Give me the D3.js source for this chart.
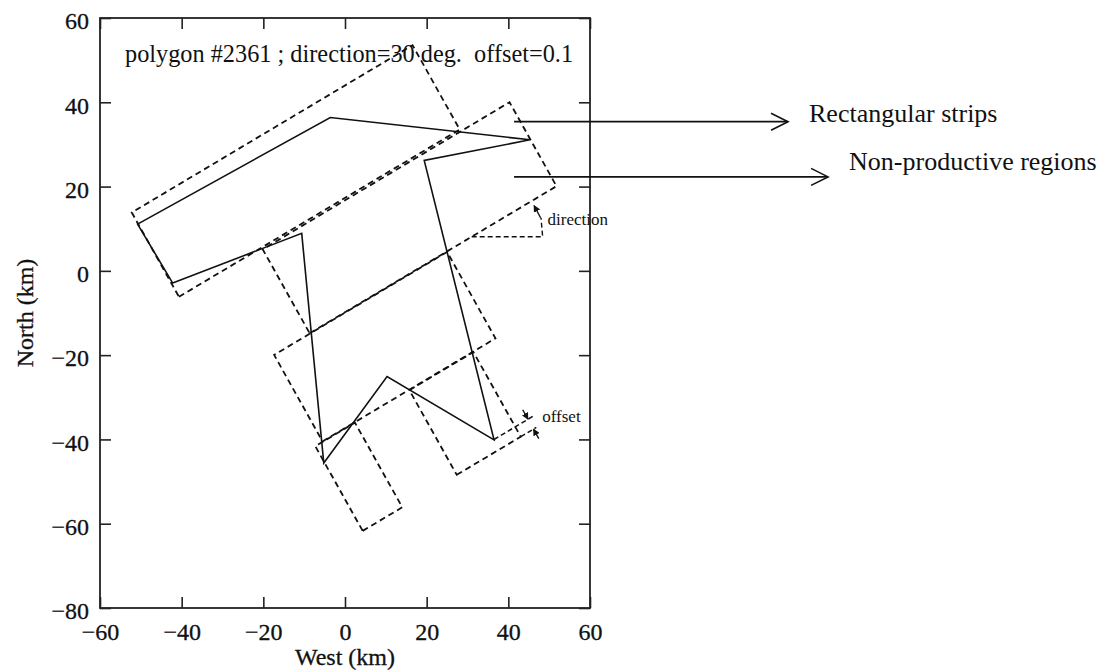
<!DOCTYPE html>
<html>
<head>
<meta charset="utf-8">
<script src="https://cdn.jsdelivr.net/npm/d3@7"></script>
<style>
  body { margin: 0; background: #fff; }
  svg { display: block; font-family: "Liberation Serif", "Times New Roman", serif; }
</style>
</head>
<body>
<svg id="chart"></svg>
<script>
// polygon outline, km (west, north)
const polygon = [
  [-50.8, 11.1], [-3.6, 36.4], [45.3, 31.1], [19.4, 26.2], [36.5, -40.1],
  [10.3, -25.1], [-5.2, -45.6], [-10.6, 8.9], [-42.2, -2.9]
];

// strips, in the frame turned by `direction`: along-track u and cross-track v, km
const direction = 30;
const stripU = [[-38.3, 41.1], [-14.9, 54.9], [-25.0, 23.9], [-27.1, -15.9], [-0.5, 17.6]];
const stripV = [[15.0, 38.1], [-8.5, 14.5], [-32.3, -8.6], [-55.6, -32.4], [-55.6, -32.4]];

// offset marker: the two edges it measures (v), how far each runs (u), where the arrows sit (u)
const offsetV = [-52.9, -55.6];
const offsetU = [[11.6, 22.6], [17.6, 22.0]];
const offsetArrowU = 21.2;

const xTicks = [-60, -40, -20, 0, 20, 40, 60];
const yTicks = [-80, -60, -40, -20, 0, 20, 40, 60];

const title = "polygon #2361 ; direction=30 deg.  offset=0.1";
const callouts = ["Rectangular strips", "Non-productive regions"];
// callout arrows in km: start x, end x, y
const calloutX0 = [41.4, 41.4];
const calloutX1 = [108.5, 118.3];
const calloutY = [35.4, 22.3];

const W = 1106, H = 672;
const svg = d3.select("#chart").attr("width", W).attr("height", H);

const x = d3.scaleLinear().domain([-60, 60]).range([100, 590]);
const y = d3.scaleLinear().domain([-80, 60]).range([608, 18]);

const rad = direction * Math.PI / 180;
const turn = (u, v) => [u * Math.cos(rad) - v * Math.sin(rad), u * Math.sin(rad) + v * Math.cos(rad)];
const line = d3.line().x(d => x(d[0])).y(d => y(d[1]));
const ink = "#111";

const defs = svg.append("defs");
defs.append("marker").attr("id", "fill-head")
  .attr("viewBox", "0 0 10 10").attr("refX", 9).attr("refY", 5)
  .attr("markerWidth", 5).attr("markerHeight", 5).attr("orient", "auto")
  .append("path").attr("d", "M0,0L10,5L0,10Z").attr("fill", ink);
defs.append("marker").attr("id", "open-head")
  .attr("viewBox", "0 0 20 20").attr("refX", 18).attr("refY", 10)
  .attr("markerWidth", 20).attr("markerHeight", 20).attr("markerUnits", "userSpaceOnUse")
  .attr("orient", "auto")
  .append("path").attr("d", "M1,1.5L18,10L1,18.5").attr("fill", "none")
  .attr("stroke", ink).attr("stroke-width", 1.6);

// axes: ticks point inward on all four sides
const tick = 11;
svg.append("g")
  .attr("transform", `translate(0,${y(-80)})`)
  .call(d3.axisBottom(x).tickValues(xTicks).tickSizeInner(-tick).tickSizeOuter(0).tickPadding(15));
svg.append("g").attr("class", "y-left")
  .attr("transform", `translate(${x(-60)},0)`)
  .call(d3.axisLeft(y).tickValues(yTicks).tickSizeInner(-tick).tickSizeOuter(0).tickPadding(11));
svg.append("g")
  .attr("transform", `translate(0,${y(60)})`)
  .call(d3.axisTop(x).tickValues(xTicks).tickSizeInner(-tick).tickSizeOuter(0).tickFormat(""));
svg.append("g")
  .attr("transform", `translate(${x(60)},0)`)
  .call(d3.axisRight(y).tickValues(yTicks).tickSizeInner(-tick).tickSizeOuter(0).tickFormat(""));

svg.selectAll(".domain").remove();
svg.selectAll(".tick line").attr("stroke", "#222").attr("stroke-width", 1.6);
svg.selectAll(".tick text")
  .attr("font-size", 24).attr("font-family", "Liberation Serif")
  .attr("fill", ink).attr("stroke", ink).attr("stroke-width", 0.3);
svg.select(".y-left").selectAll(".tick text").attr("dy", "0.45em");

svg.append("rect")
  .attr("x", x(-60)).attr("y", y(60))
  .attr("width", x(60) - x(-60)).attr("height", y(-80) - y(60))
  .attr("fill", "none").attr("stroke", "#222").attr("stroke-width", 1.8);

svg.append("text")
  .attr("x", x(0)).attr("y", 665)
  .attr("text-anchor", "middle").attr("font-size", 24)
  .attr("fill", ink).attr("stroke", ink).attr("stroke-width", 0.3)
  .text("West (km)");
svg.append("text")
  .attr("transform", `translate(33,${y(-10)}) rotate(-90)`)
  .attr("text-anchor", "middle").attr("font-size", 24)
  .attr("fill", ink).attr("stroke", ink).attr("stroke-width", 0.3)
  .text("North (km)");

// strips (dashed)
svg.append("g").selectAll("path")
  .data(stripU.map((u, i) => {
    const v = stripV[i];
    return [turn(u[0], v[0]), turn(u[1], v[0]), turn(u[1], v[1]), turn(u[0], v[1])];
  }))
  .join("path")
  .attr("d", d => line(d) + "Z")
  .attr("fill", "none").attr("stroke", ink).attr("stroke-width", 1.8)
  .attr("stroke-dasharray", "6,4");

// polygon (solid)
svg.append("path")
  .attr("d", line(polygon) + "Z")
  .attr("fill", "none").attr("stroke", ink).attr("stroke-width", 1.6);

// direction marker: horizontal reference, then the turn up to the strip edge
const dirY = 8.1, dirX1 = 48.4;
const dirX0 = (dirY * Math.cos(rad) - stripV[1][0]) / Math.sin(rad);
svg.append("path")
  .attr("d", line([[dirX0, dirY], [dirX1, dirY], [dirX1 - 0.4, 12.6]]))
  .attr("fill", "none").attr("stroke", ink).attr("stroke-width", 1.4)
  .attr("stroke-dasharray", "5,3");
svg.append("path")
  .attr("d", line([[47.9, 12.6], [46.3, 15.5]]))
  .attr("fill", "none").attr("stroke", ink).attr("stroke-width", 1.4)
  .attr("marker-end", "url(#fill-head)");
svg.append("text")
  .attr("x", x(49.6)).attr("y", y(10.9))
  .attr("font-size", 17).attr("fill", ink)
  .text("direction");

// offset marker: the two edges, each with an arrow pointing at it
svg.append("g").selectAll("path")
  .data(offsetV)
  .join("path")
  .attr("d", (v, i) => line([turn(offsetU[i][0], v), turn(offsetU[i][1], v)]))
  .attr("fill", "none").attr("stroke", ink).attr("stroke-width", 1.5)
  .attr("stroke-dasharray", "5,3");
svg.append("g").selectAll("path")
  .data(offsetV)
  .join("path")
  .attr("d", (v, i) => {
    const back = i === 0 ? 2.6 : -2.6;
    return line([turn(offsetArrowU, v + back), turn(offsetArrowU, v)]);
  })
  .attr("fill", "none").attr("stroke", ink).attr("stroke-width", 1.4)
  .attr("marker-end", "url(#fill-head)");
svg.append("text")
  .attr("x", x(48.3)).attr("y", y(-35.8))
  .attr("font-size", 17).attr("fill", ink)
  .text("offset");

// title inside the frame
svg.append("text")
  .attr("x", 125).attr("y", 62)
  .attr("font-size", 24.3).attr("fill", ink)
  .style("white-space", "pre")
  .text(title);

// callouts on the right
svg.append("g").selectAll("path")
  .data(callouts)
  .join("path")
  .attr("d", (d, i) => line([[calloutX0[i], calloutY[i]], [calloutX1[i], calloutY[i]]]))
  .attr("stroke", ink).attr("stroke-width", 1.7)
  .attr("marker-end", "url(#open-head)");
svg.append("g").selectAll("text")
  .data(callouts)
  .join("text")
  .attr("x", (d, i) => x(calloutX1[i]) + 21)
  .attr("y", (d, i) => y(calloutY[i]) - [0, 7][i])
  .attr("font-size", 26).attr("fill", ink)
  .text(d => d);
</script>
</body>
</html>
